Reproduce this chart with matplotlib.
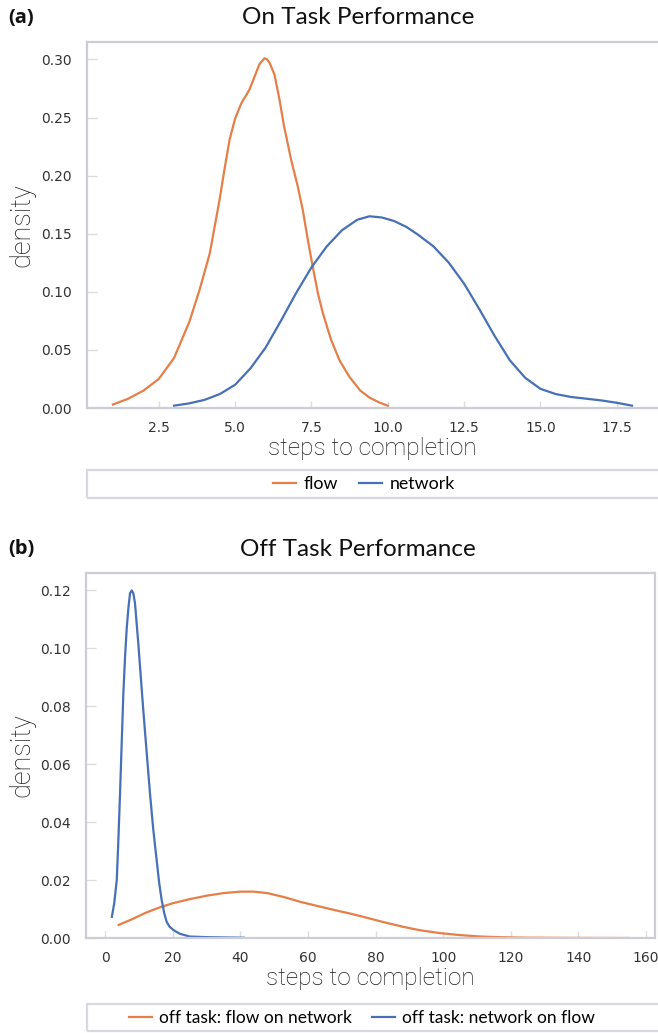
import matplotlib
matplotlib.use("Agg")
import matplotlib.pyplot as plt
from matplotlib.patches import Rectangle

# ---------------- data ----------------
on_flow_x = [1.0, 1.5, 2.0, 2.5, 3.0, 3.5, 3.84, 4.17, 4.49, 4.65, 4.82, 5.0, 5.2, 5.47,
             5.65, 5.8, 5.96, 6.05, 6.13, 6.29, 6.45, 6.6, 6.84, 7.05, 7.22, 7.38, 7.54,
             7.71, 7.87, 8.14, 8.42, 8.74, 9.1, 9.4, 9.7, 10.0]
on_flow_y = [0.003, 0.008, 0.015, 0.025, 0.043, 0.074, 0.102, 0.133, 0.179, 0.205, 0.231,
             0.249, 0.262, 0.274, 0.286, 0.296, 0.301, 0.300, 0.297, 0.287, 0.266, 0.243,
             0.213, 0.191, 0.170, 0.145, 0.122, 0.099, 0.082, 0.059, 0.041, 0.027, 0.015,
             0.009, 0.005, 0.002]

on_net_x = [3.0, 3.5, 4.0, 4.5, 5.0, 5.5, 6.0, 6.5, 7.0, 7.5, 8.0, 8.5, 9.0, 9.4, 9.8,
            10.2, 10.6, 11.0, 11.5, 12.0, 12.5, 13.0, 13.5, 14.0, 14.5, 15.0, 15.5, 16.0,
            16.5, 17.0, 17.5, 18.0]
on_net_y = [0.002, 0.004, 0.007, 0.012, 0.020, 0.034, 0.052, 0.075, 0.099, 0.121, 0.139,
            0.153, 0.162, 0.165, 0.164, 0.161, 0.156, 0.149, 0.139, 0.125, 0.107, 0.085,
            0.062, 0.041, 0.026, 0.0165, 0.012, 0.0095, 0.008, 0.0065, 0.0045, 0.002]

off_flow_x = [4, 8, 12, 16, 20, 25, 30, 35, 40, 44, 48, 53, 58, 63, 68, 73, 78, 83, 88,
              93, 99, 105, 111, 118, 124, 135, 145, 155]
off_flow_y = [0.0045, 0.0065, 0.0087, 0.0105, 0.0120, 0.0134, 0.0146, 0.0155, 0.0160,
              0.0160, 0.0155, 0.0141, 0.0124, 0.0110, 0.0096, 0.0083, 0.0068, 0.0053,
              0.0039, 0.0027, 0.0017, 0.0010, 0.0005, 0.00025, 0.00012, 0.00005,
              0.00002, 0.0]

off_net_x = [2.0, 2.7, 3.45, 3.9, 4.42, 4.9, 5.4, 5.9, 6.4, 6.9, 7.37, 7.88, 8.35, 8.85,
             9.3, 9.82, 10.5, 11.3, 12.3, 13.27, 14.2, 15.25, 16.0, 16.73, 17.5, 18.2,
             19.0, 20.15, 22.0, 25.0, 30.0, 35.0, 41.0]
off_net_y = [0.0073, 0.012, 0.020, 0.033, 0.050, 0.067, 0.0845, 0.097, 0.107, 0.114,
             0.119, 0.120, 0.119, 0.1155, 0.109, 0.1017, 0.091, 0.0786, 0.064, 0.050,
             0.038, 0.0269, 0.019, 0.0131, 0.0085, 0.0056, 0.0040, 0.0028, 0.0015,
             0.0005, 0.0003, 0.0002, 0.0001]

top_xticks = [2.5, 5.0, 7.5, 10.0, 12.5, 15.0, 17.5]
top_yticks = [0.00, 0.05, 0.10, 0.15, 0.20, 0.25, 0.30]
bot_xticks = [0, 20, 40, 60, 80, 100, 120, 140, 160]
bot_yticks = [0.00, 0.02, 0.04, 0.06, 0.08, 0.10, 0.12]

top_labels = ["flow", "network"]
bot_labels = ["off task: flow on network", "off task: network on flow"]

# ---------------- style ----------------
ORANGE = "#E67E48"
BLUE = "#4870B6"
SPINE = "#CDCDD5"
TICK = "#DCDCDC"
TXT = "Lato"
LBL = "Roboto"

W, H = 658, 1033
fig = plt.figure(figsize=(W / 100, H / 100), dpi=100)


def fx(px):
    return px / W


def fy(py):
    return 1 - py / H


def style_axes(ax, right_spine):
    for s in ["left", "top", "bottom", "right"]:
        ax.spines[s].set_color(SPINE)
        ax.spines[s].set_linewidth(1.6)
    ax.spines["right"].set_visible(right_spine)
    ax.tick_params(axis="y", direction="in", length=7, width=1, color=TICK,
                   pad=11, labelsize=10, labelcolor="#333333")
    ax.tick_params(axis="x", direction="in", length=5, width=1, color=TICK,
                   pad=9, labelsize=10, labelcolor="#333333")
    ax.tick_params(top=False, right=False)
    ax.set_ylabel("density", fontsize=19.5, family=LBL, fontweight="light",
                  color="#1a1a1a")
    ax.set_xlabel("steps to completion", fontsize=17.6, family=LBL,
                  fontweight="light", color="#1a1a1a", labelpad=2)


# ---- top axes ----
ax1 = fig.add_axes([fx(87), fy(408), fx(658) - fx(87), fy(42) - fy(408)])
ax1.plot(on_flow_x, on_flow_y, color=ORANGE, lw=1.6, label=top_labels[0],
         solid_joinstyle="round")
ax1.plot(on_net_x, on_net_y, color=BLUE, lw=1.6, label=top_labels[1],
         solid_joinstyle="round")
ax1.set_xlim(0.15, 18.85)
ax1.set_ylim(0, 0.315)
ax1.set_xticks(top_xticks)
ax1.set_xticklabels([f"{v:.1f}" for v in top_xticks])
ax1.set_yticks(top_yticks)
ax1.set_yticklabels([f"{v:.2f}" for v in top_yticks])
style_axes(ax1, right_spine=False)
ax1.yaxis.set_label_coords((35 - 87) / 571, 0.5)

# ---- bottom axes ----
ax2 = fig.add_axes([fx(86), fy(938), fx(655) - fx(86), fy(573) - fy(938)])
ax2.plot(off_flow_x, off_flow_y, color=ORANGE, lw=1.6, label=bot_labels[0],
         solid_joinstyle="round")
ax2.plot(off_net_x, off_net_y, color=BLUE, lw=1.6, label=bot_labels[1],
         solid_joinstyle="round")
ax2.set_xlim(-5.65, 162.65)
ax2.set_ylim(0, 0.126)
ax2.set_xticks(bot_xticks)
ax2.set_xticklabels([str(v) for v in bot_xticks])
ax2.set_yticks(bot_yticks)
ax2.set_yticklabels([f"{v:.2f}" for v in bot_yticks])
style_axes(ax2, right_spine=True)
ax2.yaxis.set_label_coords((35 - 86) / 569, 0.5)

# ---- titles & panel letters ----
fig.text(fx(358), fy(18), "On Task Performance", ha="center", va="center",
         fontsize=17.5, family=TXT, color="#111111")
fig.text(fx(358), fy(549), "Off Task Performance", ha="center", va="center",
         fontsize=17.5, family=TXT, color="#111111")
fig.text(fx(8), fy(18), "(a)", ha="left", va="center", fontsize=14.5,
         family="Open Sans", fontweight="bold", color="#111111")
fig.text(fx(8), fy(549), "(b)", ha="left", va="center", fontsize=14.5,
         family="Open Sans", fontweight="bold", color="#111111")

# ---- legend boxes ----
for (y0, y1) in [(470, 498), (1004, 1031)]:
    fig.patches.append(Rectangle((fx(87), fy(y1)), fx(700) - fx(87), fy(y0) - fy(y1),
                                 transform=fig.transFigure, fill=False,
                                 edgecolor="#D8D8E0", linewidth=1.6))

h1, l1 = ax1.get_legend_handles_labels()
fig.legend(h1, l1, loc="center", bbox_to_anchor=(fx(364), fy(484)), ncol=2,
           frameon=False, prop={"family": TXT, "size": 12.8}, handlelength=1.3,
           handletextpad=0.4, columnspacing=1.2)
h2, l2 = ax2.get_legend_handles_labels()
fig.legend(h2, l2, loc="center", bbox_to_anchor=(fx(362), fy(1018)), ncol=2,
           frameon=False, prop={"family": TXT, "size": 12.5}, handlelength=1.3,
           handletextpad=0.4, columnspacing=1.2)

fig.savefig("out.png", dpi=100)
